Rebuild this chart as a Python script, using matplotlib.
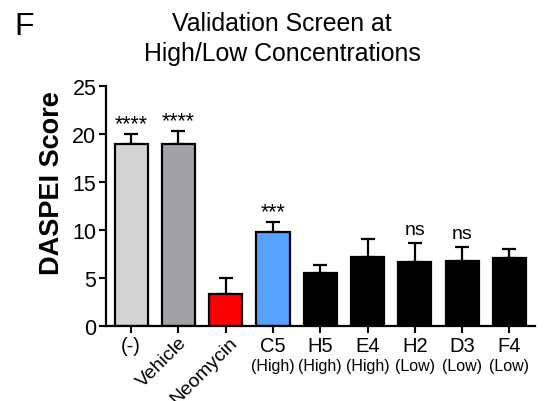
import matplotlib
matplotlib.use("Agg")
import matplotlib.pyplot as plt
import numpy as np

plt.rcParams['font.family'] = ['Liberation Sans', 'DejaVu Sans']

categories = ["(-)", "Vehicle", "Neomycin", "C5", "H5", "E4", "H2", "D3", "F4"]
sublabels = ["", "", "", "(High)", "(High)", "(High)", "(Low)", "(Low)", "(Low)"]
means = [18.95, 18.95, 3.3, 9.75, 5.5, 7.2, 6.7, 6.8, 7.05]
errors = [1.05, 1.35, 1.65, 1.05, 0.9, 1.85, 1.9, 1.4, 0.95]
signif = ["****", "****", "", "***", "", "", "ns", "ns", ""]
colors = ["#d4d4d4", "#a2a2a6", "#ff0000", "#55a2ff", "#000000", "#000000", "#000000", "#000000", "#000000"]

fig = plt.figure(figsize=(5.45, 4.02), dpi=100)
ax = fig.add_axes([106/545, 1-327/402, (535-106)/545, (327-87)/402])

x = np.arange(len(categories))
ax.bar(x, means, width=0.70, color=colors, edgecolor="black", linewidth=1.6, zorder=2)
ax.errorbar(x, means, yerr=[np.zeros(len(means)), errors], fmt="none",
            ecolor="black", elinewidth=1.6, capsize=5, capthick=1.6, zorder=1)

ax.set_xlim(-0.53, len(categories) - 1 + 0.54)
ax.set_ylim(0, 25)
ax.set_yticks([0, 5, 10, 15, 20, 25])
ax.tick_params(axis="y", labelsize=15.5, width=1.5, length=5, direction="out", pad=2)
ax.tick_params(axis="x", width=1.5, length=5, direction="out", labelsize=14.5, pad=2)

for s in ["top", "right"]:
    ax.spines[s].set_visible(False)
for s in ["left", "bottom"]:
    ax.spines[s].set_linewidth(1.6)

ax.set_xticks(x)
labels = []
for i, c in enumerate(categories):
    labels.append(c if i not in (1, 2) else "")
ax.set_xticklabels(labels)

trans = ax.get_xaxis_transform()
rot_dx = {1: 0.0, 2: 0.06}
for i in (1, 2):
    ax.text(x[i] + rot_dx[i], -0.03, categories[i], transform=trans, rotation=45,
            ha="right", va="top", rotation_mode="anchor", fontsize=14)
for i, s in enumerate(sublabels):
    if s:
        ax.text(x[i], -0.135, s, transform=trans, ha="center", va="top", fontsize=11.5)

for i, s in enumerate(signif):
    if s:
        if s.startswith("*"):
            ax.annotate(s, (x[i], means[i] + errors[i]), xytext=(0, 0),
                        textcoords="offset points", ha="center", va="bottom", fontsize=15.5)
        else:
            ax.annotate(s, (x[i], means[i] + errors[i]), xytext=(0, 4),
                        textcoords="offset points", ha="center", va="bottom", fontsize=14)

fig.text(52/545, 1-183/402, "DASPEI Score", rotation=90, ha="center", va="center",
         fontsize=19.5, fontweight="bold")

fig.text(282/545, 1-12/402, "Validation Screen at\nHigh/Low Concentrations",
         ha="center", va="top", fontsize=17.9, linespacing=1.32)
fig.text(14/545, 1-12/402, "F", ha="left", va="top", fontsize=23)

fig.savefig("out.png", dpi=100)
